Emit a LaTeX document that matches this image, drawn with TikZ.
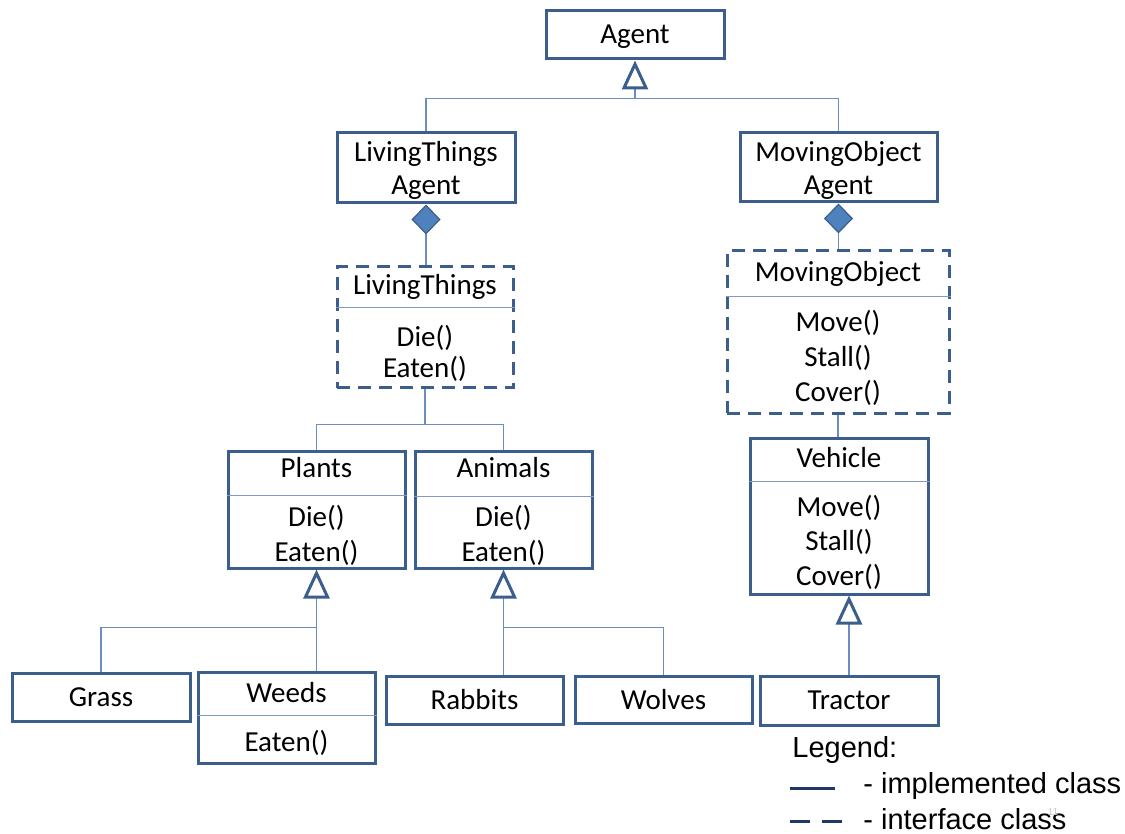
\documentclass[tikz,border=0pt]{standalone}
\usepackage{fontspec}
\setmainfont{Carlito}
\newfontfamily\legendfont{Liberation Sans}
\usetikzlibrary{arrows.meta}
\definecolor{boxc}{HTML}{3B5E8C}
\definecolor{connc}{HTML}{6A8EC2}
\definecolor{sepc}{HTML}{7C9BC6}
\definecolor{diaf}{HTML}{4F81BD}
\definecolor{legc}{HTML}{1F3864}
\begin{document}
\begin{tikzpicture}[x=0.5pt,y=-0.5pt,
  cls/.style={draw=boxc, line width=1.5pt, inner sep=0pt, fill=white},
  iface/.style={cls, dash pattern=on 6.5pt off 4pt},
  txt/.style={inner sep=0pt, font=\fontsize{14.5}{16.5}\selectfont, align=center},
  conn/.style={draw=connc, line width=0.75pt},
  sepline/.style={draw=sepc, line width=0.6pt},
  gen/.style={-{Triangle[open, length=14.5pt, width=13pt, line width=1.5pt, color=boxc]}},
  comp/.style={-{Diamond[length=15pt, width=14.5pt, line width=0.6pt, color=boxc, fill=diaf]}},
  legtxt/.style={anchor=west, inner sep=0pt, font=\legendfont\fontsize{14.5}{17}\selectfont}
]
\useasboundingbox[fill=white] (0,0) rectangle (1125,834);

% ---------- boxes ----------
\node[cls, minimum width=89pt, minimum height=24pt] (agent) at (635,35) {};
\node[cls, minimum width=89pt, minimum height=35pt] (lta) at (426,168) {};
\node[cls, minimum width=98.5pt, minimum height=34.5pt] (moa) at (838.5,167.5) {};
\node[iface, minimum width=88pt, minimum height=60.5pt] (ltI) at (425,327.5) {};
\node[iface, minimum width=111pt, minimum height=81pt] (moI) at (838,332) {};
\node[cls, minimum width=88.5pt, minimum height=58.5pt] (plants) at (316.5,509.5) {};
\node[cls, minimum width=88.5pt, minimum height=58.5pt] (animals) at (503.5,509.5) {};
\node[cls, minimum width=89pt, minimum height=78pt] (vehicle) at (839,516) {};
\node[cls, minimum width=89pt, minimum height=24pt] (grass) at (101,697) {};
\node[cls, minimum width=88.5pt, minimum height=45.5pt] (weeds) at (286.5,717.5) {};
\node[cls, minimum width=88.5pt, minimum height=24pt] (rabbits) at (474.5,700) {};
\node[cls, minimum width=88.5pt, minimum height=23.5pt] (wolves) at (663.5,699.5) {};
\node[cls, minimum width=89pt, minimum height=24.5pt] (tractor) at (849,700.5) {};

% ---------- compartment separators ----------
\draw[sepline] ([yshift=-21pt]ltI.north west) -- ([yshift=-21pt]ltI.north east);
\draw[sepline] ([yshift=-23.5pt]moI.north west) -- ([yshift=-23.5pt]moI.north east);
\draw[sepline] ([yshift=-23pt]plants.north west) -- ([yshift=-23pt]plants.north east);
\draw[sepline] ([yshift=-23.5pt]animals.north west) -- ([yshift=-23.5pt]animals.north east);
\draw[sepline] ([yshift=-22.5pt]vehicle.north west) -- ([yshift=-22.5pt]vehicle.north east);
\draw[sepline] ([yshift=-22.5pt]weeds.north west) -- ([yshift=-22.5pt]weeds.north east);

% ---------- texts ----------
\node[txt] (agentT) at (635,37) {Agent};
\node[txt] (ltaT) at (426,170.5) {LivingThings\\Agent};
\node[txt] (moaT) at (838.5,170.5) {MovingObject\\Agent};
\node[txt] (ltIT) at (425,287) {LivingThings};
\node[txt, font=\fontsize{14.5}{15.5}\selectfont] (ltIM) at (425,353) {Die()\\Eaten()};
\node[txt] (moIT) at (838,274) {MovingObject};
\node[txt, font=\fontsize{14.5}{17.5}\selectfont] (moIM) at (838,357.5) {Move()\\Stall()\\Cover()};
\node[txt] (plantsT) at (316.5,468) {Plants};
\node[txt, font=\fontsize{14.5}{17.5}\selectfont] (plantsM) at (316.5,535) {Die()\\Eaten()};
\node[txt] (animalsT) at (503.5,468) {Animals};
\node[txt, font=\fontsize{14.5}{17.5}\selectfont] (animalsM) at (503.5,535) {Die()\\Eaten()};
\node[txt] (vehicleT) at (839,458) {Vehicle};
\node[txt, font=\fontsize{14.5}{17.25}\selectfont] (vehicleM) at (839,542) {Move()\\Stall()\\Cover()};
\node[txt] (grassT) at (101,697) {Grass};
\node[txt] (weedsT) at (286.5,693) {Weeds};
\node[txt] (weedsM) at (286.5,743) {Eaten()};
\node[txt] (rabbitsT) at (474.5,700) {Rabbits};
\node[txt] (wolvesT) at (663.5,700) {Wolves};
\node[txt] (tractorT) at (849,700.5) {Tractor};

% ---------- connectors ----------
\path (agent.south) ++(0,38) coordinate (aj);
\draw[conn] (lta.north) |- (aj) -| (moa.north);
\draw[conn, gen] (aj) -- (agent.south);

\draw[conn, comp] (lta.south |- ltI.north) -- (lta.south);
\draw[conn, comp] (moa.south |- moI.north) -- (moa.south);

\path (ltI.south) ++(0,35) coordinate (lj);
\draw[conn] (ltI.south) -- (lj);
\draw[conn] (plants.north) |- (lj) -| (animals.north);

\path (plants.south) ++(0,58) coordinate (pj);
\draw[conn, gen] (plants.south |- weeds.north) -- (plants.south);
\draw[conn] (grass.north) |- (pj);

\path (animals.south) ++(0,58) coordinate (anj);
\draw[conn, gen] (animals.south |- rabbits.north) -- (animals.south);
\draw[conn] (wolves.north) |- (anj);

\draw[conn] (moI.south) -- (moI.south |- vehicle.north);
\draw[conn, gen] (tractor.north) -- (tractor.north |- vehicle.south);

% ---------- legend ----------
\node[legtxt] (legend) at (792,750) {Legend:};
\coordinate (l1a) at (790,788);
\coordinate (l1b) at (835,788);
\draw[legc, line width=1.5pt] (l1a) -- (l1b);
\node[legtxt] (legimpl) at (863,786) {- implemented class};
\coordinate (l2a) at (790,821);
\coordinate (l2b) at (842,821);
\draw[legc, line width=1.5pt, dash pattern=on 10pt off 6pt] (l2a) -- (l2b);
\node[legtxt] (legintf) at (863,819) {- interface class};
\node[inner sep=0pt, font=\legendfont\fontsize{5}{6}\selectfont, text=gray!45] (pagenum) at (1053,812) {11};
\end{tikzpicture}
\end{document}
